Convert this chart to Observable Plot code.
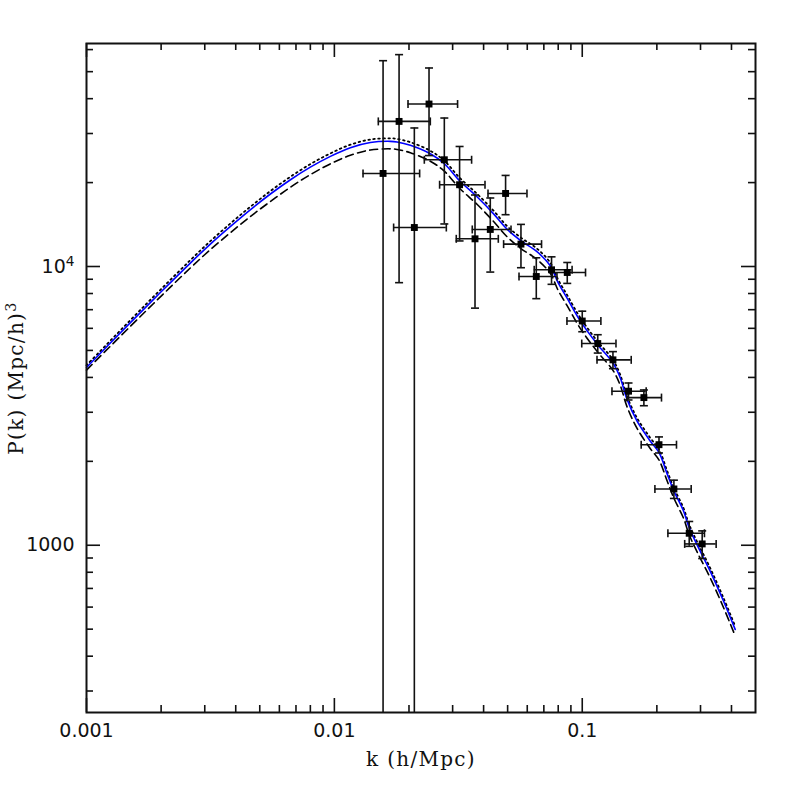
<!DOCTYPE html>
<html><head><meta charset="utf-8">
<script src="https://cdn.jsdelivr.net/npm/d3@7"></script>
<script src="https://cdn.jsdelivr.net/npm/@observablehq/plot@0.6"></script>
<style>body{margin:0;background:#fff;}</style>
</head><body><div id="chart"></div>
<script>
// ---- model curves ----
const curveK = [0.001, 0.0015, 0.002, 0.00263, 0.00316, 0.00381, 0.00459, 0.00552, 0.00665, 0.0080, 0.00964, 0.0116, 0.01397, 0.01682, 0.0179, 0.02025, 0.02438, 0.02777, 0.0320, 0.03762, 0.04389, 0.04969, 0.05659, 0.06566, 0.0743, 0.0800, 0.08676, 0.09816, 0.1150, 0.1330, 0.1423, 0.1514, 0.1662, 0.1880, 0.2044, 0.2195, 0.2343, 0.2562, 0.2701, 0.2900, 0.3281, 0.3714, 0.4140];
const curveSolid  = [4340, 6278, 8114, 10310, 12035, 13930, 16005, 18200, 20480, 22720, 24840, 26680, 27850, 28120, 27980, 27230, 25380, 23370, 20310, 17790, 15450, 13620, 12370, 11300, 10060, 8740, 7720, 6384, 5266, 4510, 3990, 3350, 2793, 2367, 2145, 1815, 1566, 1327, 1156, 1008, 808, 631, 499];
const curveDotted = [4420, 6410, 8300, 10560, 12330, 14280, 16400, 18650, 20990, 23290, 25460, 27350, 28550, 28820, 28680, 27910, 26010, 23950, 20820, 18230, 15850, 13970, 12690, 11590, 10320, 8960, 7920, 6550, 5400, 4625, 4090, 3435, 2865, 2430, 2200, 1860, 1605, 1360, 1185, 1033, 829, 647, 512];
const curveDashed = [4250, 6090, 7830, 9900, 11490, 13230, 15130, 17110, 19250, 21360, 23350, 25080, 26180, 26430, 26300, 25600, 23860, 21970, 19090, 16720, 14500, 12800, 11600, 10600, 9450, 8200, 7250, 6000, 4950, 4240, 3750, 3150, 2630, 2225, 2015, 1710, 1475, 1250, 1090, 950, 765, 598, 473];

// ---- measured band powers ----
const dataK     = [0.01572, 0.01824, 0.02102, 0.02409, 0.02777, 0.0320, 0.03693, 0.04256, 0.04906, 0.05659, 0.06525, 0.07518, 0.0870, 0.1000, 0.1155, 0.1330, 0.1537, 0.1773, 0.2040, 0.2343, 0.2701, 0.3047];
const dataKlo   = [0.01305, 0.01504, 0.01734, 0.01982, 0.02306, 0.02658, 0.03103, 0.0360, 0.04167, 0.04817, 0.05558, 0.0640, 0.07568, 0.08676, 0.09954, 0.1147, 0.1318, 0.1514, 0.1729, 0.1964, 0.2216, 0.259];
const dataKhi   = [0.02208, 0.02438, 0.02829, 0.03141, 0.03578, 0.04052, 0.04585, 0.0516, 0.05984, 0.06852, 0.07907, 0.0910, 0.1031, 0.1189, 0.1368, 0.1576, 0.1811, 0.2088, 0.2400, 0.2751, 0.3112, 0.3469];
const dataP     = [21570, 33150, 13800, 38270, 24150, 19650, 12570, 13580, 18280, 12030, 9207, 9731, 9517, 6374, 5292, 4625, 3570, 3386, 2295, 1592, 1104, 1011];
const dataSigma = [33170, 24400, 17600, 13270, 9940, 7300, 5480, 4030, 2940, 2130, 1540, 1100, 820, 540, 400, 325, 250, 220, 152, 120, 113, 115];

// ---- axes ----
const xMajor = [0.001, 0.01, 0.1];
const xTickLabels = ["0.001", "0.01", "0.1"];
const xMinor = [0.002, 0.003, 0.004, 0.005, 0.006, 0.007, 0.008, 0.009, 0.02, 0.03, 0.04, 0.05, 0.06, 0.07, 0.08, 0.09, 0.2, 0.3, 0.4];
const yMajor = [1000, 10000];
const yTickLabels = ["1000", "10^4"];
const yMinor = [300, 400, 500, 600, 700, 800, 900, 2000, 3000, 4000, 5000, 6000, 7000, 8000, 9000, 20000, 30000, 40000, 50000, 60000];
const xTitle = "k (h/Mpc)";
const yTitle = "P(k) (Mpc/h)^3";

const W = 797, H = 797, mT = 43, mB = 85, mL = 86, mR = 42;
const innerW = W - mL - mR, innerH = H - mT - mB;
const majorLen = 14, minorLen = 7;

const curves = curveK.map((k, i) => ({k, solid: curveSolid[i], dotted: curveDotted[i], dashed: curveDashed[i]}));
const pts = dataK.map((k, i) => ({
  k, klo: dataKlo[i], khi: dataKhi[i], P: dataP[i],
  ylo: Math.max(dataP[i] - dataSigma[i], 1), yhi: dataP[i] + dataSigma[i]
}));

const capH = {draw(ctx) { ctx.moveTo(-4, 0); ctx.lineTo(4, 0); }};
const capV = {draw(ctx) { ctx.moveTo(0, -4); ctx.lineTo(0, 4); }};
const ink = "#111";

const chart = Plot.plot({
  width: W, height: H,
  marginTop: mT, marginBottom: mB, marginLeft: mL, marginRight: mR,
  style: {fontFamily: "DejaVu Sans", fontSize: "19px", background: "#fff", color: ink},
  x: {type: "log", domain: [0.001, 0.5]},
  y: {type: "log", domain: [Math.pow(10, 2.4), Math.pow(10, 4.8)]},
  marks: [
    // model curves
    Plot.line(curves, {x: "k", y: "dotted", stroke: "#000", strokeWidth: 1.8, strokeDasharray: "1.6,3.4", curve: "catmull-rom"}),
    Plot.line(curves, {x: "k", y: "dashed", stroke: "#000", strokeWidth: 1.6, strokeDasharray: "8,4.5", curve: "catmull-rom"}),
    Plot.line(curves, {x: "k", y: "solid", stroke: "#0000ff", strokeWidth: 1.6, curve: "catmull-rom"}),
    // error bars
    Plot.ruleX(pts, {x: "k", y1: "ylo", y2: "yhi", stroke: ink, strokeWidth: 1.6, clip: true}),
    Plot.ruleY(pts, {y: "P", x1: "klo", x2: "khi", stroke: ink, strokeWidth: 1.6, clip: true}),
    Plot.dot(pts, {x: "k", y: "yhi", symbol: capH, r: 4, fill: "none", stroke: ink, strokeWidth: 1.6, clip: true}),
    Plot.dot(pts, {x: "k", y: "ylo", symbol: capH, r: 4, fill: "none", stroke: ink, strokeWidth: 1.6, clip: true}),
    Plot.dot(pts, {x: "klo", y: "P", symbol: capV, r: 4, fill: "none", stroke: ink, strokeWidth: 1.6, clip: true}),
    Plot.dot(pts, {x: "khi", y: "P", symbol: capV, r: 4, fill: "none", stroke: ink, strokeWidth: 1.6, clip: true}),
    Plot.dot(pts, {x: "k", y: "P", symbol: "square", r: 3.9, fill: "#000", stroke: "none"}),
    // inward ticks on all four sides
    Plot.tickX(xMajor, {x: d => d, insetTop: innerH - majorLen, stroke: ink, strokeWidth: 1.6}),
    Plot.tickX(xMajor, {x: d => d, insetBottom: innerH - majorLen, stroke: ink, strokeWidth: 1.6}),
    Plot.tickX(xMinor, {x: d => d, insetTop: innerH - minorLen, stroke: ink, strokeWidth: 1.6}),
    Plot.tickX(xMinor, {x: d => d, insetBottom: innerH - minorLen, stroke: ink, strokeWidth: 1.6}),
    Plot.tickY(yMajor, {y: d => d, insetRight: innerW - majorLen, stroke: ink, strokeWidth: 1.6}),
    Plot.tickY(yMajor, {y: d => d, insetLeft: innerW - majorLen, stroke: ink, strokeWidth: 1.6}),
    Plot.tickY(yMinor, {y: d => d, insetRight: innerW - minorLen, stroke: ink, strokeWidth: 1.6}),
    Plot.tickY(yMinor, {y: d => d, insetLeft: innerW - minorLen, stroke: ink, strokeWidth: 1.6}),
    // tick labels
    Plot.axisX(xMajor, {tickSize: 0, tickPadding: 11, fontSize: 19, label: null,
      tickFormat: d => xTickLabels[xMajor.indexOf(d)]}),
    Plot.axisY(yMajor, {tickSize: 0, tickPadding: 12, fontSize: 19, label: null,
      tickFormat: d => yTickLabels[yMajor.indexOf(d)]}),
    // axis titles
    Plot.text([xTitle], {frameAnchor: "bottom", dy: 47, textAnchor: "middle", lineAnchor: "middle",
      fontFamily: "DejaVu Serif", fontSize: 20, fill: ink}),
    Plot.text([yTitle], {frameAnchor: "left", dx: -70, rotate: -90, textAnchor: "middle", lineAnchor: "middle",
      fontFamily: "DejaVu Serif", fontSize: 20, fill: ink}),
    Plot.frame({stroke: ink, strokeWidth: 2})
  ]
});
// render "^n" as a real superscript tspan
d3.select(chart).selectAll("text").each(function() {
  const t = this.textContent;
  if (t === xTitle || t === yTitle) d3.select(this).attr("letter-spacing", "1.3px");
  const i = t.indexOf("^");
  if (i >= 0) {
    const sel = d3.select(this).text(t.slice(0, i));
    sel.append("tspan").attr("dy", "-0.5em").attr("font-size", "0.72em").text(t.slice(i + 1));
  }
});
document.getElementById("chart").appendChild(chart);
</script>
</body></html>
